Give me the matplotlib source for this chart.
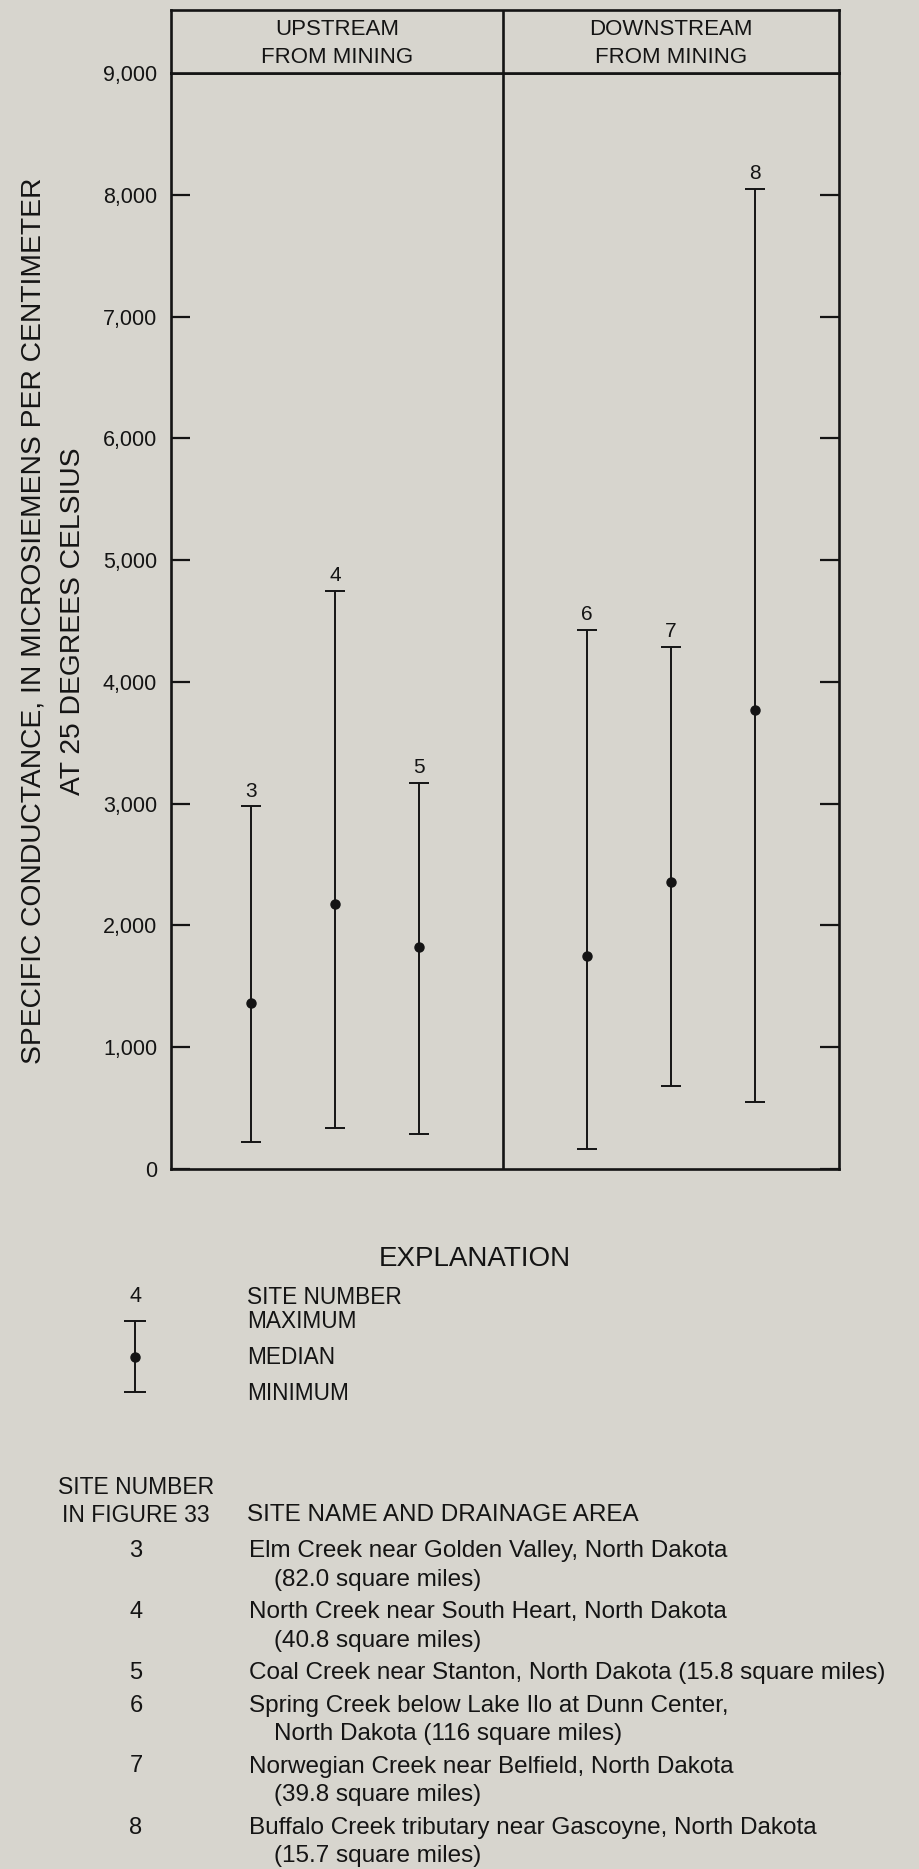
import matplotlib
matplotlib.use("Agg")
import matplotlib.pyplot as plt

W, H = 919, 1869
bg = "#d7d5ce"
ink = "#141414"
plt.rcParams['font.family'] = ['Liberation Sans', 'DejaVu Sans']

# data (microsiemens per centimeter)
sites = [3, 4, 5, 6, 7, 8]
site_x = [1, 2, 3, 5, 6, 7]
minimum = [220, 340, 290, 165, 680, 550]
median = [1360, 2180, 1820, 1750, 2360, 3770]
maximum = [2980, 4750, 3170, 4430, 4290, 8050]
yticks = [0, 1000, 2000, 3000, 4000, 5000, 6000, 7000, 8000, 9000]
ytick_labels = ["0", "1,000", "2,000", "3,000", "4,000", "5,000", "6,000", "7,000", "8,000", "9,000"]
groups = ["UPSTREAM\nFROM MINING", "DOWNSTREAM\nFROM MINING"]
group_x = [2.025, 6.0]
divider = 4
site_names = [
    ["Elm Creek near Golden Valley, North Dakota", "(82.0 square miles)"],
    ["North Creek near South Heart, North Dakota", "(40.8 square miles)"],
    ["Coal Creek near Stanton, North Dakota (15.8 square miles)"],
    ["Spring Creek below Lake Ilo at Dunn Center,", "North Dakota (116 square miles)"],
    ["Norwegian Creek near Belfield, North Dakota", "(39.8 square miles)"],
    ["Buffalo Creek tributary near Gascoyne, North Dakota", "(15.7 square miles)"],
]


def fx(x):
    return x / W


def fy(y):
    return 1 - y / H


fig = plt.figure(figsize=(W / 100, H / 100), dpi=100, facecolor=bg)

ax = fig.add_axes([fx(171), fy(1169), 668 / W, 1096 / H], facecolor=bg)
yerr = [[m - lo for m, lo in zip(median, minimum)], [hi - m for m, hi in zip(median, maximum)]]
ax.errorbar(site_x, median, yerr=yerr, fmt='o', color=ink, ms=6.5, elinewidth=1.4,
            capsize=7.2, capthick=1.4)
for x, hi, s in zip(site_x, maximum, sites):
    ax.annotate(str(s), (x, hi), xytext=(0, 4), textcoords='offset points',
                ha='center', va='bottom', fontsize=15, color=ink)
ax.axvline(divider, color=ink, lw=1.9)
ax.set_xlim(0.05, 8.0)
ax.set_ylim(0, 9000)
ax.set_xticks([])
ax.set_yticks(yticks)
ax.set_yticklabels(ytick_labels)
ax.tick_params(axis='y', direction='in', length=14, width=1.6, right=True,
               labelsize=15.5, pad=10, colors=ink)
for sp in ax.spines.values():
    sp.set_linewidth(1.9)
    sp.set_color(ink)

hd = fig.add_axes([fx(171), fy(73), 668 / W, 63 / H], facecolor=bg)
hd.set_xlim(ax.get_xlim())
hd.set_ylim(0, 1)
hd.set_xticks([])
hd.set_yticks([])
hd.axvline(divider, color=ink, lw=1.9)
for sp in hd.spines.values():
    sp.set_linewidth(1.9)
    sp.set_color(ink)
for gx, g in zip(group_x, groups):
    l1, l2 = g.split("\n")
    hd.text(gx, 0.69, l1, ha='center', va='center', fontsize=16, color=ink)
    hd.text(gx, 0.25, l2, ha='center', va='center', fontsize=16, color=ink)

# y axis title, two lines
fig.text(fx(34), fy(621), "SPECIFIC CONDUCTANCE, IN MICROSIEMENS PER CENTIMETER",
         rotation=90, ha='center', va='center', fontsize=20.3, color=ink)
fig.text(fx(73), fy(621), "AT 25 DEGREES CELSIUS",
         rotation=90, ha='center', va='center', fontsize=20.3, color=ink)

# explanation
fig.text(fx(475), fy(1259), "EXPLANATION", ha='center', va='center', fontsize=20, color=ink)
fig.text(fx(136), fy(1297), "4", ha='center', va='center', fontsize=15.5, color=ink)
for label, y in zip(["SITE NUMBER", "MAXIMUM", "MEDIAN", "MINIMUM"], [1297, 1321, 1357, 1393]):
    fig.text(fx(247), fy(y), label, ha='left', va='center', fontsize=16.3, color=ink)
lg = fig.add_axes([fx(120), fy(1392), 30 / W, 71 / H])
lg.axis('off')
lg.set_xlim(-1, 1)
lg.set_ylim(0, 1)
lg.errorbar([0], [0.5], yerr=[[0.5], [0.5]], fmt='o', color=ink, ms=6.5,
            elinewidth=1.4, capsize=7.6, capthick=1.4, clip_on=False)

# site table
fig.text(fx(136), fy(1488), "SITE NUMBER", ha='center', va='center', fontsize=16.5, color=ink)
fig.text(fx(136), fy(1515), "IN FIGURE 33", ha='center', va='center', fontsize=16.5, color=ink)
fig.text(fx(247), fy(1515), "SITE NAME AND DRAINAGE AREA", ha='left', va='center',
         fontsize=17.5, color=ink)
y = 1551
for s, lines in zip(sites, site_names):
    fig.text(fx(136), fy(y), str(s), ha='center', va='center', fontsize=17, color=ink)
    for i, line in enumerate(lines):
        x0 = 249 if i == 0 else 274
        fig.text(fx(x0), fy(y), line, ha='left', va='center', fontsize=17.5, color=ink)
        y += 28.5
    y += 32.5 - 28.5

fig.savefig("out.png", dpi=100, facecolor=bg)
